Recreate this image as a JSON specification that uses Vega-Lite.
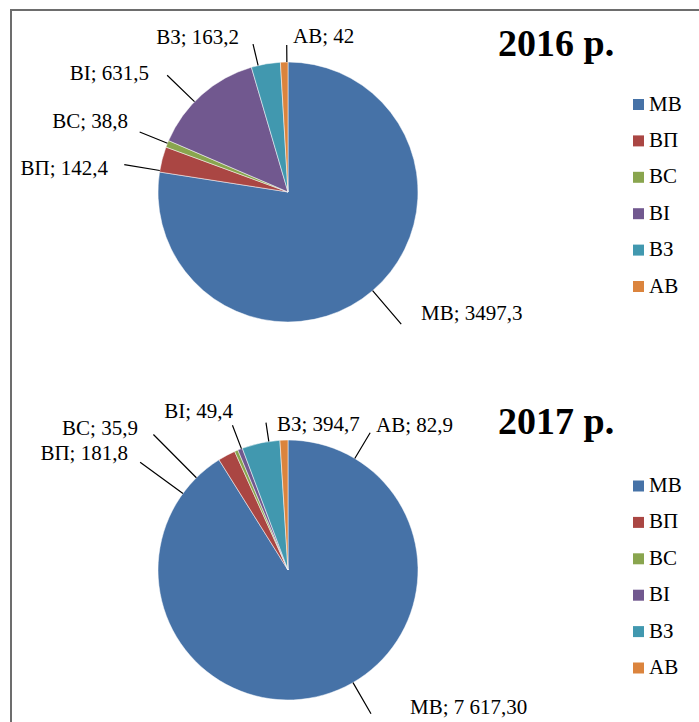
{
  "$schema": "https://vega.github.io/schema/vega-lite/v6.json",
  "width": 688,
  "height": 712,
  "autosize": {"type": "none"},
  "padding": {"left": 11, "top": 10, "right": 0, "bottom": 0},
  "background": "#ffffff",
  "datasets": {
    "d2016": [
      {"year": "2016", "ord": 1, "cat": "МВ", "value": 3497.3, "label": "МВ; 3497,3"},
      {"year": "2016", "ord": 2, "cat": "ВП", "value": 142.4, "label": "ВП; 142,4"},
      {"year": "2016", "ord": 3, "cat": "ВС", "value": 38.8, "label": "ВС; 38,8"},
      {"year": "2016", "ord": 4, "cat": "ВІ", "value": 631.5, "label": "ВІ; 631,5"},
      {"year": "2016", "ord": 5, "cat": "ВЗ", "value": 163.2, "label": "ВЗ; 163,2"},
      {"year": "2016", "ord": 6, "cat": "АВ", "value": 42, "label": "АВ; 42"}
    ],
    "d2017": [
      {"year": "2017", "ord": 1, "cat": "МВ", "value": 7617.3, "label": "МВ; 7 617,30"},
      {"year": "2017", "ord": 2, "cat": "ВП", "value": 181.8, "label": "ВП; 181,8"},
      {"year": "2017", "ord": 3, "cat": "ВС", "value": 35.9, "label": "ВС; 35,9"},
      {"year": "2017", "ord": 4, "cat": "ВІ", "value": 49.4, "label": "ВІ; 49,4"},
      {"year": "2017", "ord": 5, "cat": "ВЗ", "value": 394.7, "label": "ВЗ; 394,7"},
      {"year": "2017", "ord": 6, "cat": "АВ", "value": 82.9, "label": "АВ; 82,9"}
    ],
    "titles": [
      {"year": "2016", "title": "2016 р."},
      {"year": "2017", "title": "2017 р."}
    ]
  },
  "layer": [
    {
      "data": {"name": "d2016"},
      "transform": [{"stack": "value", "groupby": [], "sort": [{"field": "ord", "order": "ascending"}], "as": ["v0", "v1"]}],
      "encoding": {"y": {"field": "year", "type": "nominal", "axis": null, "scale": {"type": "point", "padding": 0.4418, "align": 0.5449}}},
      "layer": [
        {"mark": {"type": "arc", "outerRadius": 130, "stroke": "#ffffff", "strokeWidth": 0.5, "xOffset": -67},
         "encoding": {
           "theta": {"field": "v0", "type": "quantitative", "stack": null, "scale": {"zero": true, "nice": false}},
           "theta2": {"field": "v1"},
           "color": {"field": "cat", "type": "nominal",
             "scale": {"domain": ["МВ", "ВП", "ВС", "ВІ", "ВЗ", "АВ"], "range": ["#4672a7", "#aa4643", "#89a54e", "#71588f", "#4198af", "#db843d"]},
             "legend": {"orient": "none", "legendX": 617, "legendY": 84, "title": null, "direction": "vertical", "labelFont": "Liberation Serif"}}
         }},
        {"transform": [{"filter": "datum.cat === 'МВ'"}], "mark": {"type": "arc", "filled": false, "stroke": "#000000", "strokeWidth": 1.2, "innerRadius": 130, "outerRadius": 174, "thetaOffset": -2.4337, "theta2Offset": -2.4337, "xOffset": -67}, "encoding": {"theta": {"field": "v1", "type": "quantitative", "stack": null, "scale": {"zero": true, "nice": false}}, "theta2": {"field": "v1"}}},
        {"transform": [{"filter": "datum.cat === 'ВП'"}], "mark": {"type": "arc", "filled": false, "stroke": "#000000", "strokeWidth": 1.2, "innerRadius": 130, "outerRadius": 166, "thetaOffset": -0.1866, "theta2Offset": -0.1866, "xOffset": -67}, "encoding": {"theta": {"field": "v1", "type": "quantitative", "stack": null, "scale": {"zero": true, "nice": false}}, "theta2": {"field": "v1"}}},
        {"transform": [{"filter": "datum.cat === 'ВС'"}], "mark": {"type": "arc", "filled": false, "stroke": "#000000", "strokeWidth": 1.2, "innerRadius": 130, "outerRadius": 160, "thetaOffset": -0.0223, "theta2Offset": -0.0223, "xOffset": -67}, "encoding": {"theta": {"field": "v1", "type": "quantitative", "stack": null, "scale": {"zero": true, "nice": false}}, "theta2": {"field": "v1"}}},
        {"transform": [{"filter": "datum.cat === 'ВІ'"}], "mark": {"type": "arc", "filled": false, "stroke": "#000000", "strokeWidth": 1.2, "innerRadius": 130, "outerRadius": 168, "thetaOffset": -0.5173, "theta2Offset": -0.5173, "xOffset": -67}, "encoding": {"theta": {"field": "v1", "type": "quantitative", "stack": null, "scale": {"zero": true, "nice": false}}, "theta2": {"field": "v1"}}},
        {"transform": [{"filter": "datum.cat === 'ВЗ'"}], "mark": {"type": "arc", "filled": false, "stroke": "#000000", "strokeWidth": 1.2, "innerRadius": 130, "outerRadius": 152, "thetaOffset": -0.1737, "theta2Offset": -0.1737, "xOffset": -67}, "encoding": {"theta": {"field": "v1", "type": "quantitative", "stack": null, "scale": {"zero": true, "nice": false}}, "theta2": {"field": "v1"}}},
        {"transform": [{"filter": "datum.cat === 'АВ'"}], "mark": {"type": "arc", "filled": false, "stroke": "#000000", "strokeWidth": 1.2, "innerRadius": 130, "outerRadius": 147, "thetaOffset": -0.0087, "theta2Offset": -0.0087, "xOffset": -67}, "encoding": {"theta": {"field": "v1", "type": "quantitative", "stack": null, "scale": {"zero": true, "nice": false}}, "theta2": {"field": "v1"}}},
        {"transform": [{"filter": "datum.cat === 'МВ'"}], "mark": {"type": "text", "font": "Liberation Serif", "fontSize": 21, "radius": 130, "align": "left", "baseline": "alphabetic", "dx": 261.5, "dy": 148, "xOffset": -67}, "encoding": {"theta": {"field": "v1", "type": "quantitative", "stack": null, "scale": {"zero": true, "nice": false}}, "text": {"field": "label"}}},
        {"transform": [{"filter": "datum.cat === 'ВП'"}], "mark": {"type": "text", "font": "Liberation Serif", "fontSize": 21, "radius": 130, "align": "right", "baseline": "alphabetic", "dx": -58, "dy": 27.9, "xOffset": -67}, "encoding": {"theta": {"field": "v1", "type": "quantitative", "stack": null, "scale": {"zero": true, "nice": false}}, "text": {"field": "label"}}},
        {"transform": [{"filter": "datum.cat === 'ВС'"}], "mark": {"type": "text", "font": "Liberation Serif", "fontSize": 21, "radius": 130, "align": "right", "baseline": "alphabetic", "dx": -40.6, "dy": -12.6, "xOffset": -67}, "encoding": {"theta": {"field": "v1", "type": "quantitative", "stack": null, "scale": {"zero": true, "nice": false}}, "text": {"field": "label"}}},
        {"transform": [{"filter": "datum.cat === 'ВІ'"}], "mark": {"type": "text", "font": "Liberation Serif", "fontSize": 21, "radius": 130, "align": "right", "baseline": "alphabetic", "dx": -102.4, "dy": 12.7, "xOffset": -67}, "encoding": {"theta": {"field": "v1", "type": "quantitative", "stack": null, "scale": {"zero": true, "nice": false}}, "text": {"field": "label"}}},
        {"transform": [{"filter": "datum.cat === 'ВЗ'"}], "mark": {"type": "text", "font": "Liberation Serif", "fontSize": 21, "radius": 130, "align": "right", "baseline": "alphabetic", "dx": -41.4, "dy": -18.7, "xOffset": -67}, "encoding": {"theta": {"field": "v1", "type": "quantitative", "stack": null, "scale": {"zero": true, "nice": false}}, "text": {"field": "label"}}},
        {"transform": [{"filter": "datum.cat === 'АВ'"}], "mark": {"type": "text", "font": "Liberation Serif", "fontSize": 21, "radius": 130, "align": "left", "baseline": "alphabetic", "dx": 5, "dy": -18.5, "xOffset": -67}, "encoding": {"theta": {"field": "v1", "type": "quantitative", "stack": null, "scale": {"zero": true, "nice": false}}, "text": {"field": "label"}}}
      ]
    },
    {
      "data": {"name": "d2017"},
      "transform": [{"stack": "value", "groupby": [], "sort": [{"field": "ord", "order": "ascending"}], "as": ["v0", "v1"]}],
      "encoding": {"y": {"field": "year", "type": "nominal", "axis": null, "scale": {"type": "point", "padding": 0.4418, "align": 0.5449}}},
      "layer": [
        {"mark": {"type": "arc", "outerRadius": 130, "stroke": "#ffffff", "strokeWidth": 0.5, "xOffset": -67},
         "encoding": {
           "theta": {"field": "v0", "type": "quantitative", "stack": null, "scale": {"zero": true, "nice": false}},
           "theta2": {"field": "v1"},
           "color": {"field": "cat", "type": "nominal",
             "scale": {"domain": ["МВ", "ВП", "ВС", "ВІ", "ВЗ", "АВ"], "range": ["#4672a7", "#aa4643", "#89a54e", "#71588f", "#4198af", "#db843d"]},
             "legend": {"orient": "none", "legendX": 617, "legendY": 465.5, "title": null, "direction": "vertical", "labelFont": "Liberation Serif"}}
         }},
        {"transform": [{"filter": "datum.cat === 'МВ'"}], "mark": {"type": "arc", "filled": false, "stroke": "#000000", "strokeWidth": 1.2, "innerRadius": 130, "outerRadius": 166, "thetaOffset": -3.1056, "theta2Offset": -3.1056, "xOffset": -67}, "encoding": {"theta": {"field": "v1", "type": "quantitative", "stack": null, "scale": {"zero": true, "nice": false}}, "theta2": {"field": "v1"}}},
        {"transform": [{"filter": "datum.cat === 'ВП'"}], "mark": {"type": "arc", "filled": false, "stroke": "#000000", "strokeWidth": 1.2, "innerRadius": 130, "outerRadius": 183, "thetaOffset": -0.5178, "theta2Offset": -0.5178, "xOffset": -67}, "encoding": {"theta": {"field": "v1", "type": "quantitative", "stack": null, "scale": {"zero": true, "nice": false}}, "theta2": {"field": "v1"}}},
        {"transform": [{"filter": "datum.cat === 'ВС'"}], "mark": {"type": "arc", "filled": false, "stroke": "#000000", "strokeWidth": 1.2, "innerRadius": 130, "outerRadius": 191, "thetaOffset": -0.3859, "theta2Offset": -0.3859, "xOffset": -67}, "encoding": {"theta": {"field": "v1", "type": "quantitative", "stack": null, "scale": {"zero": true, "nice": false}}, "theta2": {"field": "v1"}}},
        {"transform": [{"filter": "datum.cat === 'ВІ'"}], "mark": {"type": "arc", "filled": false, "stroke": "#000000", "strokeWidth": 1.2, "innerRadius": 130, "outerRadius": 155, "thetaOffset": -0.0077, "theta2Offset": -0.0077, "xOffset": -67}, "encoding": {"theta": {"field": "v1", "type": "quantitative", "stack": null, "scale": {"zero": true, "nice": false}}, "theta2": {"field": "v1"}}},
        {"transform": [{"filter": "datum.cat === 'ВЗ'"}], "mark": {"type": "arc", "filled": false, "stroke": "#000000", "strokeWidth": 1.2, "innerRadius": 130, "outerRadius": 149, "thetaOffset": -0.086, "theta2Offset": -0.086, "xOffset": -67}, "encoding": {"theta": {"field": "v1", "type": "quantitative", "stack": null, "scale": {"zero": true, "nice": false}}, "theta2": {"field": "v1"}}},
        {"transform": [{"filter": "datum.cat === 'АВ'"}], "mark": {"type": "arc", "filled": false, "stroke": "#000000", "strokeWidth": 1.2, "innerRadius": 130, "outerRadius": 160, "thetaOffset": 0.5393, "theta2Offset": 0.5393, "xOffset": -67}, "encoding": {"theta": {"field": "v1", "type": "quantitative", "stack": null, "scale": {"zero": true, "nice": false}}, "theta2": {"field": "v1"}}},
        {"transform": [{"filter": "datum.cat === 'МВ'"}], "mark": {"type": "text", "font": "Liberation Serif", "fontSize": 21, "radius": 130, "align": "left", "baseline": "alphabetic", "dx": 191, "dy": 254.2, "xOffset": -67}, "encoding": {"theta": {"field": "v1", "type": "quantitative", "stack": null, "scale": {"zero": true, "nice": false}}, "text": {"field": "label"}}},
        {"transform": [{"filter": "datum.cat === 'ВП'"}], "mark": {"type": "text", "font": "Liberation Serif", "fontSize": 21, "radius": 130, "align": "right", "baseline": "alphabetic", "dx": -106.7, "dy": 8.5, "xOffset": -67}, "encoding": {"theta": {"field": "v1", "type": "quantitative", "stack": null, "scale": {"zero": true, "nice": false}}, "text": {"field": "label"}}},
        {"transform": [{"filter": "datum.cat === 'ВС'"}], "mark": {"type": "text", "font": "Liberation Serif", "fontSize": 21, "radius": 130, "align": "right", "baseline": "alphabetic", "dx": -99.9, "dy": -15.1, "xOffset": -67}, "encoding": {"theta": {"field": "v1", "type": "quantitative", "stack": null, "scale": {"zero": true, "nice": false}}, "text": {"field": "label"}}},
        {"transform": [{"filter": "datum.cat === 'ВІ'"}], "mark": {"type": "text", "font": "Liberation Serif", "fontSize": 21, "radius": 130, "align": "right", "baseline": "alphabetic", "dx": -9.3, "dy": -30.3, "xOffset": -67}, "encoding": {"theta": {"field": "v1", "type": "quantitative", "stack": null, "scale": {"zero": true, "nice": false}}, "text": {"field": "label"}}},
        {"transform": [{"filter": "datum.cat === 'ВЗ'"}], "mark": {"type": "text", "font": "Liberation Serif", "fontSize": 21, "radius": 130, "align": "left", "baseline": "alphabetic", "dx": -2.9, "dy": -9.3, "xOffset": -67}, "encoding": {"theta": {"field": "v1", "type": "quantitative", "stack": null, "scale": {"zero": true, "nice": false}}, "text": {"field": "label"}}},
        {"transform": [{"filter": "datum.cat === 'АВ'"}], "mark": {"type": "text", "font": "Liberation Serif", "fontSize": 21, "radius": 130, "align": "left", "baseline": "alphabetic", "dx": 88, "dy": -8, "xOffset": -67}, "encoding": {"theta": {"field": "v1", "type": "quantitative", "stack": null, "scale": {"zero": true, "nice": false}}, "text": {"field": "label"}}}
      ]
    },
    {
      "data": {"name": "titles"},
      "mark": {"type": "text", "font": "Liberation Serif", "align": "left", "baseline": "alphabetic", "dx": 143, "dy": -136, "fontSize": 38, "fontWeight": "bold"},
      "encoding": {
        "y": {"field": "year", "type": "nominal", "axis": null, "scale": {"type": "point", "padding": 0.4418, "align": 0.5449}},
        "text": {"field": "title"}
      }
    }
  ],
  "resolve": {"scale": {"color": "independent", "theta": "independent"}, "legend": {"color": "independent"}},
  "config": {
    "font": "Liberation Serif",
    "view": {"stroke": "#6d6d6d", "strokeWidth": 2, "strokeDash": [688, 1400, 712]},
    "text": {"font": "Liberation Serif", "fontSize": 21, "color": "#000000"},
    "legend": {"padding": 0, "symbolType": "square", "symbolSize": 121, "symbolStrokeWidth": 0, "labelFontSize": 21, "labelColor": "#000000", "labelOffset": 0, "rowPadding": 14.4}
  }
}
